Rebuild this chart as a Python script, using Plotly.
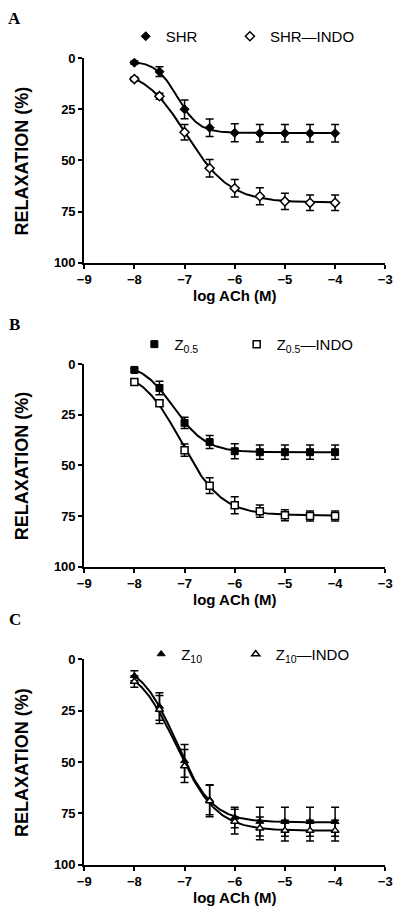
import numpy as np
import plotly.graph_objects as go

# ---------------- data ----------------
log_ach = [-8, -7.5, -7, -6.5, -6, -5.5, -5, -4.5, -4]

shr = [2.2, 6.6, 25.0, 34.0, 36.5, 36.7, 36.7, 36.7, 36.7]
shr_err = [0.8, 2.4, 4.6, 4.3, 4.4, 4.3, 4.3, 4.3, 4.3]
shr_indo = [10.2, 18.6, 36.2, 53.8, 63.6, 67.5, 70.0, 70.7, 70.7]
shr_indo_err = [1.0, 1.5, 3.8, 4.3, 4.3, 4.2, 4.0, 3.8, 3.8]

z05 = [2.9, 11.8, 29.0, 38.5, 43.0, 43.5, 43.5, 43.5, 43.5]
z05_err = [0.8, 3.3, 2.8, 3.2, 3.7, 3.5, 3.5, 3.5, 3.5]
z05_indo = [8.9, 19.3, 42.5, 60.0, 69.7, 72.6, 74.6, 75.0, 75.0]
z05_indo_err = [1.0, 1.5, 3.0, 3.9, 4.2, 3.0, 2.7, 2.5, 2.5]

z10 = [8.1, 23.0, 49.5, 68.4, 77.0, 79.0, 79.1, 79.1, 79.1]
z10_err = [2.4, 6.7, 8.0, 7.3, 5.0, 7.0, 7.0, 7.0, 7.0]
z10_indo = [10.9, 24.5, 52.0, 69.0, 79.0, 82.3, 83.4, 83.4, 83.4]
z10_indo_err = [2.8, 6.8, 8.0, 7.7, 6.0, 5.5, 5.0, 5.0, 5.0]

x_tickvals = [-9, -8, -7, -6, -5, -4, -3]
x_ticktext = ["\u22129", "\u22128", "\u22127", "\u22126", "\u22125", "\u22124", "\u22123"]
y_tickvals = [0, 25, 50, 75, 100]
y_ticktext = ["0", "25", "50", "75", "100"]

panel_letters = ["A", "B", "C"]
legend_names = [
    ("SHR", "SHR\u2014INDO"),
    ("Z<sub>0.5</sub>", "Z<sub>0.5</sub>\u2014INDO"),
    ("Z<sub>10</sub>", "Z<sub>10</sub>\u2014INDO"),
]
x_title = "log ACh (M)"
y_title = "RELAXATION (%)"


# ------------- sigmoid fit (least squares, grid over EC50 / slope) -------------
def fit_sigmoid(x, y):
    x = np.asarray(x, float)
    y = np.asarray(y, float)
    ec = np.arange(-8.5, -5.5, 0.005)
    hs = np.arange(0.4, 3.0, 0.01)
    E, H = np.meshgrid(ec, hs)
    f = 1.0 / (1.0 + 10 ** ((E[..., None] - x) * H[..., None]))
    fm = f.mean(-1)
    ym = y.mean()
    cov = ((f - fm[..., None]) * (y - ym)).sum(-1)
    var = ((f - fm[..., None]) ** 2).sum(-1)
    b = cov / var
    a = ym - b * fm
    sse = ((a[..., None] + b[..., None] * f - y) ** 2).sum(-1)
    i = np.unravel_index(np.argmin(sse), sse.shape)
    return a[i], b[i], E[i], H[i]


def curve(x, y):
    a, b, e, h = fit_sigmoid(x, y)
    xs = np.linspace(min(x), max(x), 200)
    return xs, a + b / (1.0 + 10 ** ((e - xs) * h))


# ---------------- figure ----------------
W, H = 400, 917
FONT = "Liberation Sans"

fig = go.Figure()

panels = [
    (shr, shr_err, shr_indo, shr_indo_err, "diamond", 7, (52, 260), 30, (143, 251)),
    (z05, z05_err, z05_indo, z05_indo_err, "square", 7, (363, 569), 343, (152, 258)),
    (z10, z10_err, z10_indo, z10_indo_err, "triangle-up", 7, (663, 872), 658, (159, 257)),
]

layout = dict(
    width=W, height=H, margin=dict(l=0, r=0, t=0, b=0),
    paper_bgcolor="white", plot_bgcolor="white", showlegend=True,
    font=dict(family=FONT, color="black"),
)
annotations = []

for p, (a_y, a_e, b_y, b_e, sym, msize, (ytop, ybot), leg_y, (lx1, lx2)) in enumerate(panels):
    sfx = "" if p == 0 else str(p + 1)
    xa, ya = "x" + sfx, "y" + sfx
    for yy in (a_y, b_y):
        cx, cy = curve(log_ach, yy)
        fig.add_trace(go.Scatter(x=cx, y=cy, mode="lines", xaxis=xa, yaxis=ya,
                                 line=dict(color="black", width=2), showlegend=False,
                                 hoverinfo="skip"))
    leg1 = "legend" + ("" if p == 0 else str(2 * p + 1))
    leg2 = "legend" + str(2 * p + 2)
    fig.add_trace(go.Scatter(
        x=log_ach, y=a_y, mode="markers", xaxis=xa, yaxis=ya, name=legend_names[p][0],
        error_y=dict(type="data", array=a_e, color="black", thickness=1.5, width=4),
        marker=dict(symbol=sym, size=msize, color="black", line=dict(color="black", width=1)),
        legend=leg1))
    fig.add_trace(go.Scatter(
        x=log_ach, y=b_y, mode="markers", xaxis=xa, yaxis=ya, name=legend_names[p][1],
        error_y=dict(type="data", array=b_e, color="black", thickness=1.5, width=4),
        marker=dict(symbol=sym, size=msize, color="white", line=dict(color="black", width=1.5)),
        legend=leg2))

    for leg, lx in ((leg1, lx1), (leg2, lx2)):
        layout[leg] = dict(x=(lx - 20) / W, y=1 - leg_y / H, xanchor="left", yanchor="middle",
                           orientation="h", bgcolor="rgba(0,0,0,0)", borderwidth=0,
                           font=dict(family=FONT, size=15, color="black"))

    layout["xaxis" + sfx] = dict(
        domain=[80 / W, 392 / W], range=[-9, -3], anchor=ya,
        showline=True, linewidth=2, linecolor="black", mirror=False,
        ticks="outside", ticklen=4, tickwidth=2, tickcolor="black",
        tickvals=x_tickvals, ticktext=x_ticktext, showgrid=False, zeroline=False,
        ticklabeloverflow="allow",
        tickfont=dict(family=FONT, size=13, color="black", weight="bold"))
    layout["yaxis" + sfx] = dict(
        domain=[1 - ybot / H, 1 - ytop / H], range=[100, 0], anchor=xa,
        showline=True, linewidth=2, linecolor="black",
        ticks="outside", ticklen=4, tickwidth=2, tickcolor="black",
        tickvals=y_tickvals, ticktext=y_ticktext, showgrid=False, zeroline=False,
        tickfont=dict(family=FONT, size=13, color="black", weight="bold"))

    # panel letter
    annotations.append(dict(text=panel_letters[p], xref="paper", yref="paper",
                            x=8 / W, y=1 - (ytop - 40) / H, xanchor="center", yanchor="middle",
                            showarrow=False,
                            font=dict(family="Liberation Serif", size=17, color="black", weight="bold")))
    # x title
    annotations.append(dict(text=x_title, xref="paper", yref="paper",
                            x=236 / W, y=1 - (ybot + 33) / H, xanchor="center", yanchor="middle",
                            showarrow=False,
                            font=dict(family=FONT, size=15, color="black", weight="bold")))
    # y title
    annotations.append(dict(text=y_title, xref="paper", yref="paper", textangle=-90,
                            x=15.5 / W, y=1 - (ytop + ybot) / 2 / H, xanchor="center", yanchor="middle",
                            showarrow=False,
                            font=dict(family=FONT, size=18, color="black", weight="bold")))

layout["annotations"] = annotations
fig.update_layout(**layout)
fig.write_html("out.html",
               config={"displayModeBar": False},
               post_script="document.body.style.margin='0';document.body.style.overflow='hidden';")
